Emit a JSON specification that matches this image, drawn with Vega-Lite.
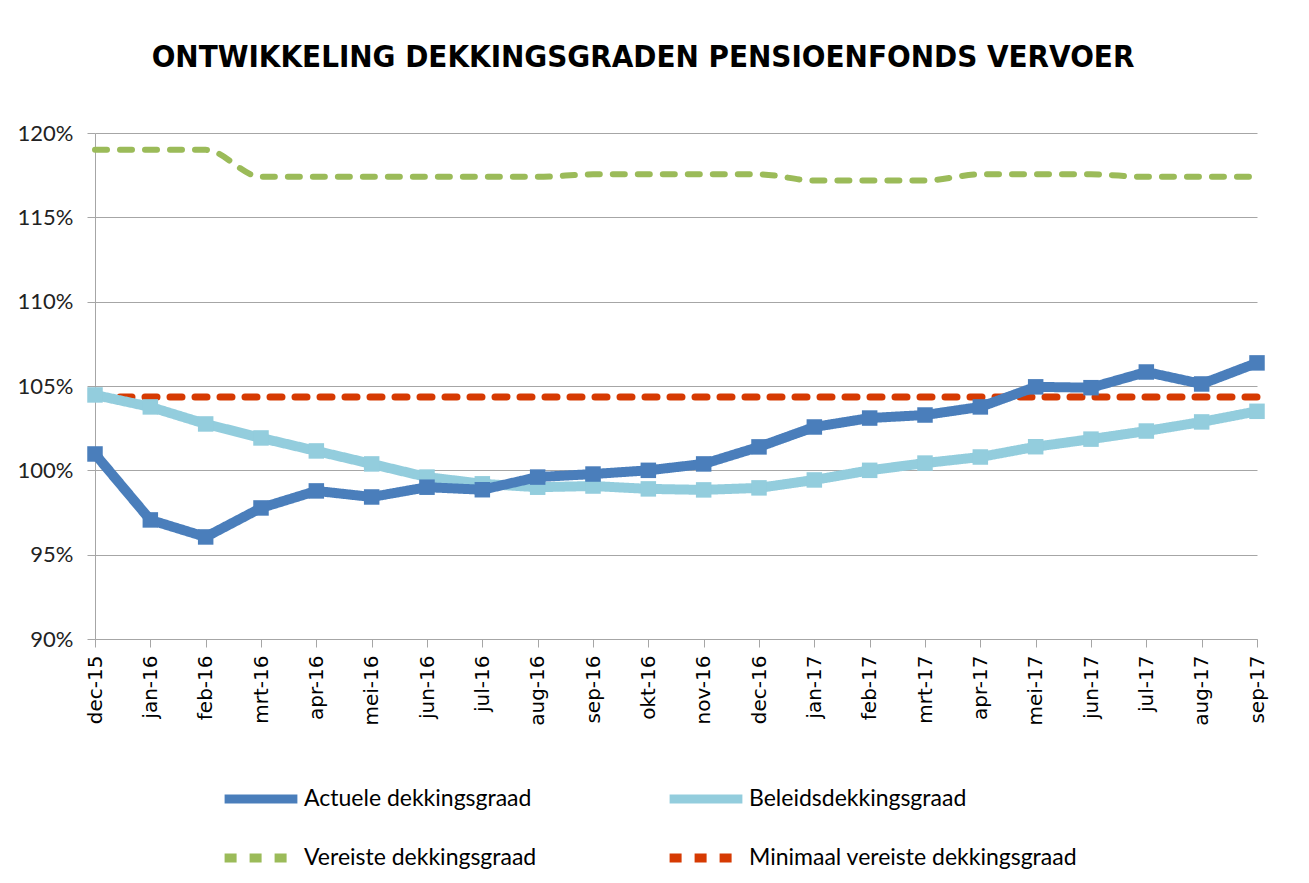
{
  "$schema": "https://vega.github.io/schema/vega-lite/v6.json",
  "autosize": "none",
  "width": 1162,
  "height": 506,
  "padding": {"left": 95, "top": 133, "right": 52, "bottom": 244},
  "background": "white",
  "title": {
    "text": "ONTWIKKELING DEKKINGSGRADEN PENSIOENFONDS VERVOER",
    "font": "DejaVu Sans Condensed",
    "fontSize": 31,
    "fontWeight": "bold",
    "color": "black",
    "anchor": "middle",
    "dx": -33,
    "offset": 48
  },
  "datasets": {
    "d": [
      {"month": "dec-15", "A": 1.0097, "B": 1.0447, "V": 1.190, "M": 1.0435},
      {"month": "jan-16", "A": 0.9706, "B": 1.0376, "V": 1.190, "M": 1.0435},
      {"month": "feb-16", "A": 0.9605, "B": 1.0275, "V": 1.190, "M": 1.0435},
      {"month": "mrt-16", "A": 0.9777, "B": 1.0192, "V": 1.174, "M": 1.0435},
      {"month": "apr-16", "A": 0.9878, "B": 1.0115, "V": 1.174, "M": 1.0435},
      {"month": "mei-16", "A": 0.9842, "B": 1.0038, "V": 1.174, "M": 1.0435},
      {"month": "jun-16", "A": 0.9900, "B": 0.9960, "V": 1.174, "M": 1.0435},
      {"month": "jul-16", "A": 0.9885, "B": 0.9920, "V": 1.174, "M": 1.0435},
      {"month": "aug-16", "A": 0.9960, "B": 0.9900, "V": 1.174, "M": 1.0435},
      {"month": "sep-16", "A": 0.9978, "B": 0.9907, "V": 1.1755, "M": 1.0435},
      {"month": "okt-16", "A": 1.0000, "B": 0.9890, "V": 1.1755, "M": 1.0435},
      {"month": "nov-16", "A": 1.0038, "B": 0.9884, "V": 1.1755, "M": 1.0435},
      {"month": "dec-16", "A": 1.0139, "B": 0.9896, "V": 1.1755, "M": 1.0435},
      {"month": "jan-17", "A": 1.0257, "B": 0.9943, "V": 1.1718, "M": 1.0435},
      {"month": "feb-17", "A": 1.0310, "B": 1.0000, "V": 1.1718, "M": 1.0435},
      {"month": "mrt-17", "A": 1.0328, "B": 1.0043, "V": 1.1718, "M": 1.0435},
      {"month": "apr-17", "A": 1.0376, "B": 1.0079, "V": 1.1755, "M": 1.0435},
      {"month": "mei-17", "A": 1.0495, "B": 1.0140, "V": 1.1755, "M": 1.0435},
      {"month": "jun-17", "A": 1.0490, "B": 1.0185, "V": 1.1755, "M": 1.0435},
      {"month": "jul-17", "A": 1.0583, "B": 1.0233, "V": 1.174, "M": 1.0435},
      {"month": "aug-17", "A": 1.0512, "B": 1.0287, "V": 1.174, "M": 1.0435},
      {"month": "sep-17", "A": 1.0637, "B": 1.0350, "V": 1.174, "M": 1.0435}
    ]
  },
  "data": {"name": "d"},
  "transform": [
    {"fold": ["A", "B", "V", "M"], "as": ["key", "value"]},
    {"lookup": "key", "from": {"data": {"values": [
      {"key": "A", "series": "Actuele dekkingsgraad"},
      {"key": "B", "series": "Beleidsdekkingsgraad"},
      {"key": "V", "series": "Vereiste dekkingsgraad"},
      {"key": "M", "series": "Minimaal vereiste dekkingsgraad"}
    ]}, "key": "key", "fields": ["series"]}}
  ],
  "encoding": {
    "x": {
      "field": "month", "type": "ordinal", "sort": null,
      "scale": {"type": "point", "padding": 0},
      "axis": {
        "title": null, "labelAngle": -90, "labelFont": "DejaVu Sans", "labelFontSize": 20,
        "labelColor": "black", "labelPadding": 8, "tickSize": 8, "tickColor": "#a6a6a6",
        "domainColor": "#a6a6a6", "grid": false, "labelBaseline": "middle", "labelAlign": "right"
      }
    },
    "y": {
      "field": "value", "type": "quantitative",
      "scale": {"domain": [0.9, 1.2], "nice": false, "zero": false},
      "axis": {
        "title": null, "values": [0.9, 0.95, 1.0, 1.05, 1.1, 1.15, 1.2], "format": ".0%",
        "labelFont": "Lato", "labelFontSize": 22, "labelColor": "#222222", "labelPadding": 14,
        "tickSize": 8, "tickColor": "#a6a6a6", "domainColor": "#a6a6a6",
        "grid": true, "gridColor": "#a6a6a6", "gridWidth": 1
      }
    },
    "color": {
      "field": "series", "type": "nominal",
      "scale": {
        "domain": ["Actuele dekkingsgraad", "Beleidsdekkingsgraad", "Vereiste dekkingsgraad", "Minimaal vereiste dekkingsgraad"],
        "range": ["#4a7ebb", "#93cddd", "#9bbb59", "#d63a02"]
      },
      "legend": {
        "orient": "none", "legendX": 125, "legendY": 625, "direction": "horizontal", "columns": 2,
        "title": null, "symbolType": "stroke", "symbolSize": 5300, "symbolStrokeWidth": 9,
        "labelFont": "Lato", "labelFontSize": 23, "labelColor": "black", "labelOffset": 2,
        "columnPadding": 114, "rowPadding": 0, "labelLimit": 500
      }
    },
    "strokeDash": {
      "field": "series", "type": "nominal",
      "scale": {
        "domain": ["Actuele dekkingsgraad", "Beleidsdekkingsgraad", "Vereiste dekkingsgraad", "Minimaal vereiste dekkingsgraad"],
        "range": [[1, 0], [1, 0], [12, 13], [12, 13]]
      }
    }
  },
  "layer": [
    {
      "transform": [{"filter": "datum.key == 'M'"}],
      "mark": {"type": "line", "strokeWidth": 7, "strokeCap": "round"}
    },
    {
      "transform": [{"filter": "datum.key == 'V'"}],
      "mark": {"type": "line", "strokeWidth": 6, "strokeCap": "round", "interpolate": "monotone"}
    },
    {
      "transform": [{"filter": "datum.key == 'B'"}],
      "mark": {"type": "line", "strokeWidth": 10, "strokeJoin": "round"}
    },
    {
      "transform": [{"filter": "datum.key == 'B'"}],
      "mark": {"type": "point", "shape": "square", "filled": true, "size": 240, "opacity": 1}
    },
    {
      "transform": [{"filter": "datum.key == 'A'"}],
      "mark": {"type": "line", "strokeWidth": 10, "strokeJoin": "round"}
    },
    {
      "transform": [{"filter": "datum.key == 'A'"}],
      "mark": {"type": "point", "shape": "square", "filled": true, "size": 240, "opacity": 1}
    }
  ],
  "config": {"view": {"stroke": null}}
}
